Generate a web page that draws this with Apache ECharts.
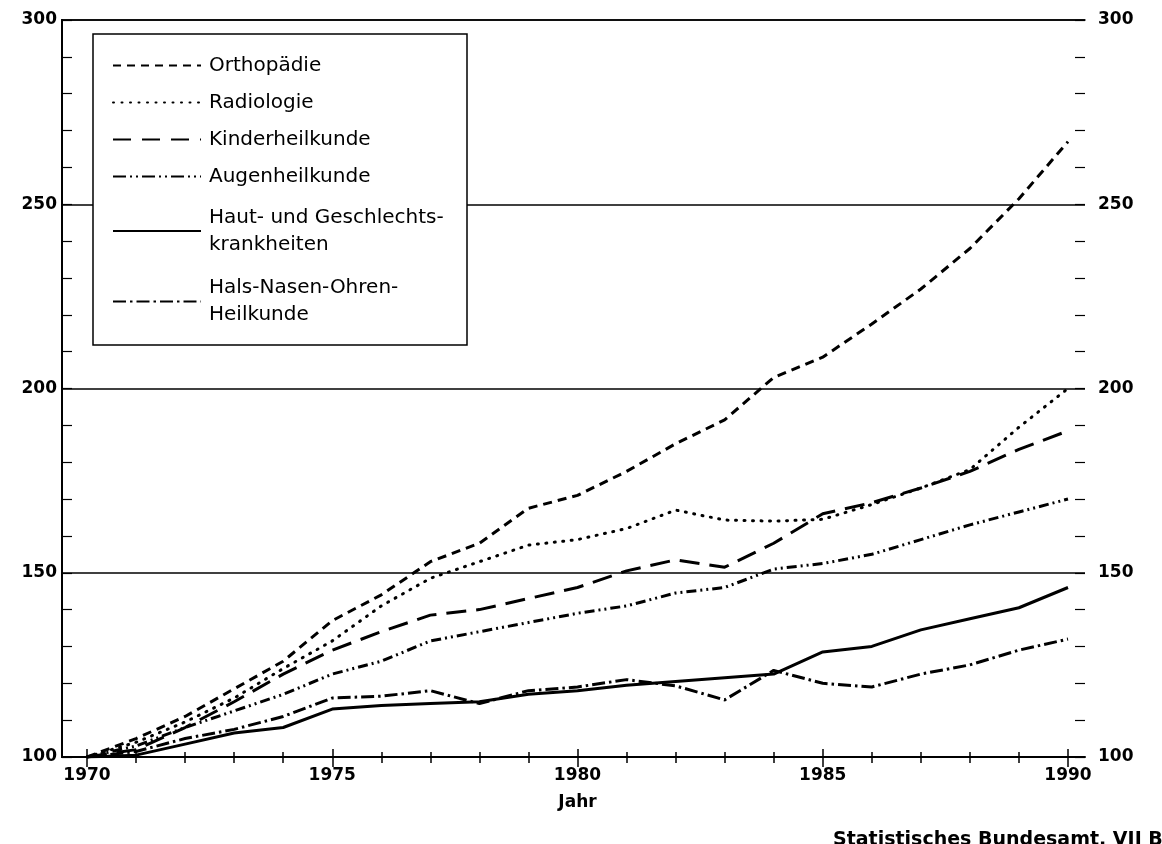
<!DOCTYPE html>
<html>
<head>
<meta charset="utf-8">
<script src="https://cdn.jsdelivr.net/npm/echarts@6/dist/echarts.min.js"></script>
<style>html,body{margin:0;padding:0;background:#fff}#c{width:1162px;height:844px}</style>
</head>
<body>
<div id="c"></div>
<script>
var years = [1970,1971,1972,1973,1974,1975,1976,1977,1978,1979,1980,1981,1982,1983,1984,1985,1986,1987,1988,1989,1990];
var orthopaedie = [100,105,111,118.5,126,137,144,153,158,167.5,171,177.5,185,191.5,203,208.5,217.5,227,238,251.5,267];
var radiologie = [100,104,109.5,116,124,131.5,141,148.5,153,157.5,159,162,167,164.3,164,164.5,168.5,173,178,189.5,200];
var kinderheilkunde = [100,102,108,115,122.5,129,134,138.5,140,143,146,150.5,153.5,151.5,158,166,169,173,177.5,183.5,188.5];
var augenheilkunde = [100,103,108,112.5,117,122.5,126,131.5,134,136.5,139,141,144.5,146,151,152.5,155,159,163,166.5,170];
var hautGeschlecht = [100,100.5,103.5,106.5,108,113,114,114.5,115,117,118,119.5,120.5,121.5,122.5,128.5,130,134.5,137.5,140.5,146];
var halsNasenOhren = [100,101.5,105,107.5,111,116,116.5,118,114.5,118,119,121,119.3,115.5,123.5,120,119,122.5,125,129,132];
var seriesNames = ['Orthopädie','Radiologie','Kinderheilkunde','Augenheilkunde','Haut- und Geschlechts-\nkrankheiten','Hals-Nasen-Ohren-\nHeilkunde'];
var yTickLabels = [100,150,200,250,300];
var xTickLabels = [1970,1975,1980,1985,1990];

var FONT = 'DejaVu Sans';
function pairs(vals){ return years.map(function(y,i){ return [y, vals[i]]; }); }
var dashes = [[9,6],[1,7.5],[20,10],[10,4,2,4,2,4],null,[13,4,2.5,4]];
var caps = ['butt','round','butt','butt','butt','butt'];
var allVals = [orthopaedie,radiologie,kinderheilkunde,augenheilkunde,hautGeschlecht,halsNasenOhren];

var series = allVals.map(function(v,i){
  return {
    name: seriesNames[i], type:'line', xAxisIndex:0, yAxisIndex:0,
    data: pairs(v), symbol:'none', smooth:false, z:2,
    lineStyle:{color:'#000', width:3, type: dashes[i] || 'solid', cap: caps[i], join:'round'},
    itemStyle:{color:'#000'}
  };
});

var dataGrid = {left:87, right:94, top:20, bottom:87};
var frameGrid = {left:62, right:77, top:20, bottom:87};
var rightTickGrid = {left:1075, right:77, top:20, bottom:87};

function tickAxis(opts){
  var base = {
    type:'value', gridIndex:0, min:1970, max:1990, position:'bottom',
    axisLine:{show:false}, splitLine:{show:false},
    axisLabel:{show:false}, axisTick:{show:true, lineStyle:{color:'#000', width:1.5}}
  };
  for (var k in opts) base[k] = opts[k];
  return base;
}
function hiddenX(g){
  return {type:'value', gridIndex:g, min:0, max:1, show:false};
}
var yLabelFmt = function(v){ return yTickLabels.indexOf(v) >= 0 ? String(v) : ''; };

var option = {
  animation:false,
  backgroundColor:'#fff',
  grid:[dataGrid, frameGrid, frameGrid, frameGrid, rightTickGrid],
  xAxis:[
    tickAxis({interval:1,
      axisTick:{show:true, inside:false, length:6, lineStyle:{color:'#000', width:1.5}},
      axisLabel:{show:true, margin:10, color:'#000', fontFamily:FONT, fontWeight:'bold', fontSize:17,
        formatter:function(v){ return xTickLabels.indexOf(v) >= 0 ? String(v) : ''; }},
      name:'Jahr', nameLocation:'middle', nameGap:37,
      nameTextStyle:{color:'#000', fontFamily:FONT, fontWeight:'bold', fontSize:17}
    }),
    tickAxis({interval:1, axisTick:{show:true, inside:true, length:5, lineStyle:{color:'#000', width:1.5}}}),
    tickAxis({interval:5, axisTick:{show:true, inside:false, length:10, lineStyle:{color:'#000', width:1.5}}}),
    tickAxis({interval:5, axisTick:{show:true, inside:true, length:8, lineStyle:{color:'#000', width:1.5}}}),
    {type:'value', gridIndex:1, min:0, max:1, position:'bottom',
      axisLine:{show:true, lineStyle:{color:'#000', width:2}}, axisTick:{show:false}, axisLabel:{show:false}, splitLine:{show:false}},
    {type:'value', gridIndex:1, min:0, max:1, position:'top',
      axisLine:{show:true, lineStyle:{color:'#000', width:1.5}}, axisTick:{show:false}, axisLabel:{show:false}, splitLine:{show:false}},
    hiddenX(2),
    hiddenX(3),
    hiddenX(4)
  ],
  yAxis:[
    {type:'value', gridIndex:0, min:100, max:300, show:false},
    {type:'value', gridIndex:1, min:100, max:300, interval:10, position:'left',
      axisLine:{show:true, lineStyle:{color:'#000', width:2}},
      axisTick:{show:true, inside:true, length:10, lineStyle:{color:'#000', width:1.2}},
      axisLabel:{margin:5, color:'#000', fontFamily:FONT, fontWeight:'bold', fontSize:17, formatter:yLabelFmt},
      splitLine:{show:false}},
    {type:'value', gridIndex:2, min:100, max:300, interval:10, position:'right',
      axisLine:{show:true, lineStyle:{color:'#000', width:2}},
      axisTick:{show:false},
      axisLabel:{margin:13, color:'#000', fontFamily:FONT, fontWeight:'bold', fontSize:17, formatter:yLabelFmt},
      splitLine:{show:false}},
    {type:'value', gridIndex:3, min:100, max:300, interval:50, position:'left',
      axisLine:{show:false}, axisTick:{show:false}, axisLabel:{show:false},
      splitLine:{show:true, lineStyle:{color:'#000', width:1.5}}},
    {type:'value', gridIndex:4, min:100, max:300, interval:10, position:'left',
      axisLine:{show:false}, axisLabel:{show:false}, splitLine:{show:false},
      axisTick:{show:true, inside:true, length:10, lineStyle:{color:'#000', width:1.2}}}
  ],
  legend:{
    orient:'vertical', left:112, top:52, padding:0, itemGap:10,
    itemWidth:88, itemHeight:14, z:10,
    itemStyle:{color:'rgba(0,0,0,0)', borderColor:'rgba(0,0,0,0)', borderWidth:0, opacity:0},
    textStyle:{color:'#000', fontFamily:FONT, fontSize:20, lineHeight:27, padding:[0,0,0,3]},
    data:[
      {name:seriesNames[0], lineStyle:{type:[8,6]}},
      {name:seriesNames[1]},
      {name:seriesNames[2], lineStyle:{type:[18,11]}},
      {name:seriesNames[3], lineStyle:{type:[13,4,2,4,2,4]}},
      {name:seriesNames[4], textStyle:{padding:[8,0,0,3]}},
      {name:seriesNames[5], textStyle:{padding:[5,0,0,3]}}
    ]
  },
  title:{text:'Statistisches Bundesamt, VII B', left:833, top:831, padding:0,
    textStyle:{color:'#000', fontFamily:FONT, fontWeight:'bold', fontSize:19}},
  graphic:[
    {type:'rect', z:5, shape:{x:93, y:34, width:374, height:311},
      style:{fill:'#fff', stroke:'#000', lineWidth:1.5}}
  ],
  series: series
};

var chart = echarts.init(document.getElementById('c'), null, {renderer:'canvas'});
chart.setOption(option);
</script>
</body>
</html>
